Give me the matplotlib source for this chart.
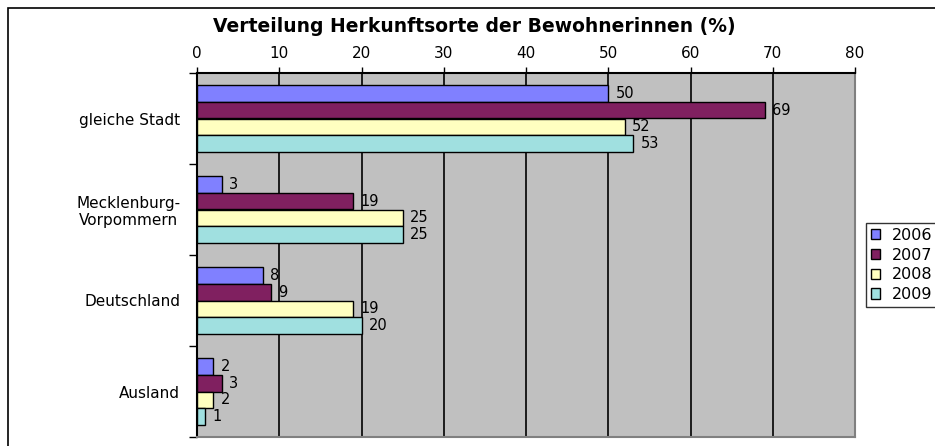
import numpy as np
import matplotlib.pyplot as plt
from matplotlib.patches import Rectangle

plt.rcParams['font.family'] = ['DejaVu Sans']

categories = ['gleiche Stadt', 'Mecklenburg-\nVorpommern', 'Deutschland', 'Ausland']
years = ['2006', '2007', '2008', '2009']
values = {
    '2006': [50, 3, 8, 2],
    '2007': [69, 19, 9, 3],
    '2008': [52, 25, 19, 2],
    '2009': [53, 25, 20, 1],
}
colors = ['#8080FF', '#802060', '#FFFFC0', '#A0E0E0']

W, H = 935, 446
fig = plt.figure(figsize=(W / 100, H / 100), dpi=100)
ax = fig.add_axes([197 / W, 1 - 437 / H, (855 - 197) / W, (437 - 73) / H])
ax.set_facecolor('#C0C0C0')

# outer frame
fig.patches.append(Rectangle((8 / W, -0.1), 1.2, 1 - 8 / H + 0.1, transform=fig.transFigure,
                             fill=False, edgecolor='black', linewidth=1.2, zorder=0))

y = np.arange(len(categories))
h = 0.182
for i, yr in enumerate(years):
    pos = y + (i - 1.5) * h
    ax.barh(pos, values[yr], height=h, color=colors[i], edgecolor='black',
            linewidth=1, label=yr, zorder=3)
    for p, v in zip(pos, values[yr]):
        ax.text(v + 0.9, p, str(v), va='center', ha='left', fontsize=10.5, zorder=4)

ax.set_xlim(0, 80)
ax.set_ylim(3.5, -0.5)
ax.set_xticks(np.arange(0, 81, 10))
ax.xaxis.tick_top()
ax.tick_params(axis='x', direction='out', length=4, width=1, labelsize=11, pad=5)
ax.grid(axis='x', color='black', linewidth=1.2, zorder=1)
ax.set_axisbelow(True)

ax.set_yticks(y)
ax.set_yticklabels(categories, fontsize=11, multialignment='center')
ax.set_yticks(np.arange(-0.5, 3.6, 1), minor=True)
ax.tick_params(axis='y', which='major', length=0, pad=12)
ax.tick_params(axis='y', which='minor', direction='out', length=5.5, width=1)

ax.spines['left'].set_color('black')
ax.spines['top'].set_color('black')
ax.spines['right'].set_color('#808080')
ax.spines['bottom'].set_color('#808080')
for s in ax.spines.values():
    s.set_linewidth(1.5)

fig.text(474 / W, 1 - 26 / H, 'Verteilung Herkunftsorte der Bewohnerinnen (%)',
         fontsize=13.5, fontweight='bold', ha='center', va='center')

leg = ax.legend(loc='upper left', bbox_to_anchor=(866 / W, 1 - 223 / H),
                bbox_transform=fig.transFigure, frameon=True, fancybox=False,
                edgecolor='black', fontsize=11.5, handlelength=0.6, handleheight=0.6,
                handletextpad=0.7, borderpad=0.3, labelspacing=0.3, borderaxespad=0)
leg.get_frame().set_linewidth(1)

fig.savefig('out.png', dpi=100)
